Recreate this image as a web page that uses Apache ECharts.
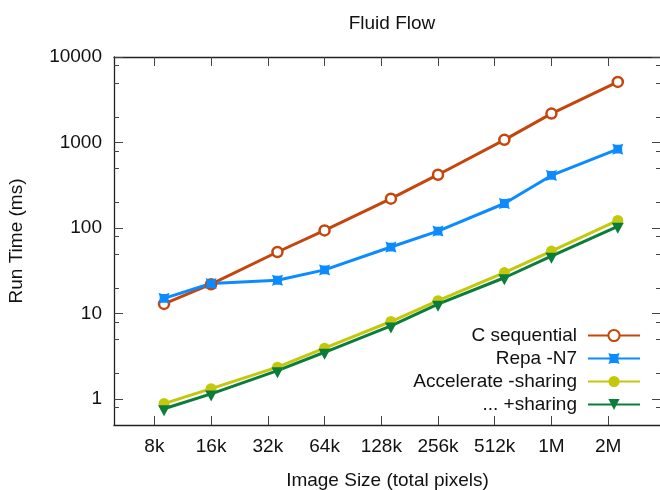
<!DOCTYPE html>
<html>
<head>
<meta charset="utf-8">
<script src="https://cdn.jsdelivr.net/npm/echarts@6/dist/echarts.min.js"></script>
<style>
  html, body { margin: 0; padding: 0; background: #fff; }
  #box { width: 660px; height: 490px; }
</style>
</head>
<body>
<div id="box"></div>
<script>
// image sizes in pixels (96², 128², 192², 256², 384², 512², 768², 1024², 1536²)
const sizes = [9216, 16384, 36864, 65536, 147456, 262144, 589824, 1048576, 2359296];
const cSequential = [13.0, 22.1, 52.6, 94, 221, 421, 1075, 2180, 5120];
const repaN7 = [15.1, 22.5, 24.6, 32.5, 60.1, 92.3, 194, 413, 836];
const accNoSharing = [0.89, 1.33, 2.37, 3.95, 8.1, 14.2, 30.2, 54, 123];
const accSharing = [0.775, 1.155, 2.16, 3.54, 7.2, 12.9, 26.3, 47, 105];

const xTickValues = [8192, 16384, 32768, 65536, 131072, 262144, 524288, 1048576, 2097152];
const xTickLabels = ["8k", "16k", "32k", "64k", "128k", "256k", "512k", "1M", "2M"];
const yMajor = [1, 10, 100, 1000, 10000];
const yMinor = [0.8, 2, 5, 8, 20, 50, 80, 200, 500, 800, 2000, 5000, 8000];

const font = "Liberation Sans";
const fs = 19;
const axisColor = "#222";

function pairs(ys) {
  return sizes.map((s, i) => [s, ys[i]]);
}

let myCharts = echarts.init(document.getElementById("box"));

const yBase = {
  type: "log",
  logBase: 10,
  min: 0.5,
  max: 10000,
  splitLine: { show: false },
  minorTick: { show: false }
};
const xBase = {
  type: "log",
  logBase: 2,
  min: 5000,
  max: 4000000,
  splitLine: { show: false },
  minorTick: { show: false }
};

let option = {
  animation: false,
  title: {
    text: "Fluid Flow",
    left: 387,
    top: 9,
    textAlign: "center",
    textStyle: { fontFamily: font, fontSize: fs, fontWeight: "normal", color: "#111" }
  },
  grid: { left: 114, top: 57, right: -1, bottom: 65, outerBoundsMode: "none", containLabel: false },
  legend: {
    orient: "vertical",
    align: "right",
    right: 14,
    top: 321,
    itemWidth: 52,
    itemHeight: 14,
    itemGap: 4,
    textStyle: { fontFamily: font, fontSize: fs, color: "#111", lineHeight: 19, padding: [0, 6, 0, 0] },
    data: ["C sequential", "Repa -N7", "Accelerate -sharing", "... +sharing"]
  },
  xAxis: [
    Object.assign({}, xBase, {
      position: "bottom",
      name: "Image Size (total pixels)",
      nameLocation: "middle",
      nameGap: 46,
      nameTextStyle: { fontFamily: font, fontSize: fs, color: "#111" },
      axisLine: { lineStyle: { color: axisColor, width: 1.3 } },
      axisTick: { inside: true, length: 9, customValues: xTickValues, lineStyle: { color: "#444" } },
      axisLabel: {
        customValues: xTickValues,
        margin: 12,
        fontFamily: font,
        fontSize: fs,
        color: "#111",
        formatter: v => xTickLabels[xTickValues.findIndex(t => Math.abs(t - v) / t < 1e-6)] || ""
      }
    }),
    Object.assign({}, xBase, {
      position: "top",
      axisLine: { lineStyle: { color: axisColor, width: 1.3 } },
      axisTick: { inside: true, length: 9, customValues: xTickValues, lineStyle: { color: "#444" } },
      axisLabel: { show: false }
    })
  ],
  yAxis: [
    Object.assign({}, yBase, {
      position: "left",
      name: "Run Time (ms)",
      nameLocation: "middle",
      nameGap: 88,
      nameTextStyle: { fontFamily: font, fontSize: fs, color: "#111" },
      axisLine: { show: true, lineStyle: { color: axisColor, width: 1.3 } },
      axisTick: { show: true, inside: true, length: 9, customValues: yMajor, lineStyle: { color: "#444" } },
      axisLabel: {
        customValues: yMajor,
        margin: 12,
        fontFamily: font,
        fontSize: fs,
        color: "#111",
        formatter: v => String(Math.round(v))
      }
    }),
    Object.assign({}, yBase, {
      position: "left",
      axisLine: { show: false },
      axisTick: { show: true, inside: true, length: 5, customValues: yMinor, lineStyle: { color: "#444" } },
      axisLabel: { show: false }
    }),
    Object.assign({}, yBase, {
      position: "right",
      axisLine: { show: true, lineStyle: { color: axisColor, width: 1.3 } },
      axisTick: { show: true, inside: true, length: 9, customValues: yMajor, lineStyle: { color: "#444" } },
      axisLabel: { show: false }
    }),
    Object.assign({}, yBase, {
      position: "right",
      axisLine: { show: false },
      axisTick: { show: true, inside: true, length: 5, customValues: yMinor, lineStyle: { color: "#444" } },
      axisLabel: { show: false }
    })
  ],
  series: [
    {
      name: "C sequential",
      type: "line",
      data: pairs(cSequential),
      symbol: "circle",
      symbolSize: 10,
      lineStyle: { color: "#c5460c", width: 3 },
      itemStyle: { color: "#fff", borderColor: "#c5460c", borderWidth: 2.5 }
    },
    {
      name: "Repa -N7",
      type: "line",
      data: pairs(repaN7),
      symbol: "path://M0,0 L3,1 L7,1 L10,0 L9,3 L9,7 L10,10 L7,9 L3,9 L0,10 L1,7 L1,3 Z",
      symbolSize: 11,
      lineStyle: { color: "#0b8bff", width: 3 },
      itemStyle: { color: "#0b8bff" }
    },
    {
      name: "Accelerate -sharing",
      type: "line",
      data: pairs(accNoSharing),
      symbol: "circle",
      symbolSize: 11,
      lineStyle: { color: "#c4c80a", width: 3 },
      itemStyle: { color: "#c4c80a" }
    },
    {
      name: "... +sharing",
      type: "line",
      data: pairs(accSharing),
      symbol: "path://M0,0 L10,0 L5,9 Z",
      symbolSize: [12, 11],
      symbolOffset: [0, 2],
      lineStyle: { color: "#0b7d3b", width: 3 },
      itemStyle: { color: "#0b7d3b" }
    }
  ]
};
myCharts.setOption(option);
</script>
</body>
</html>
